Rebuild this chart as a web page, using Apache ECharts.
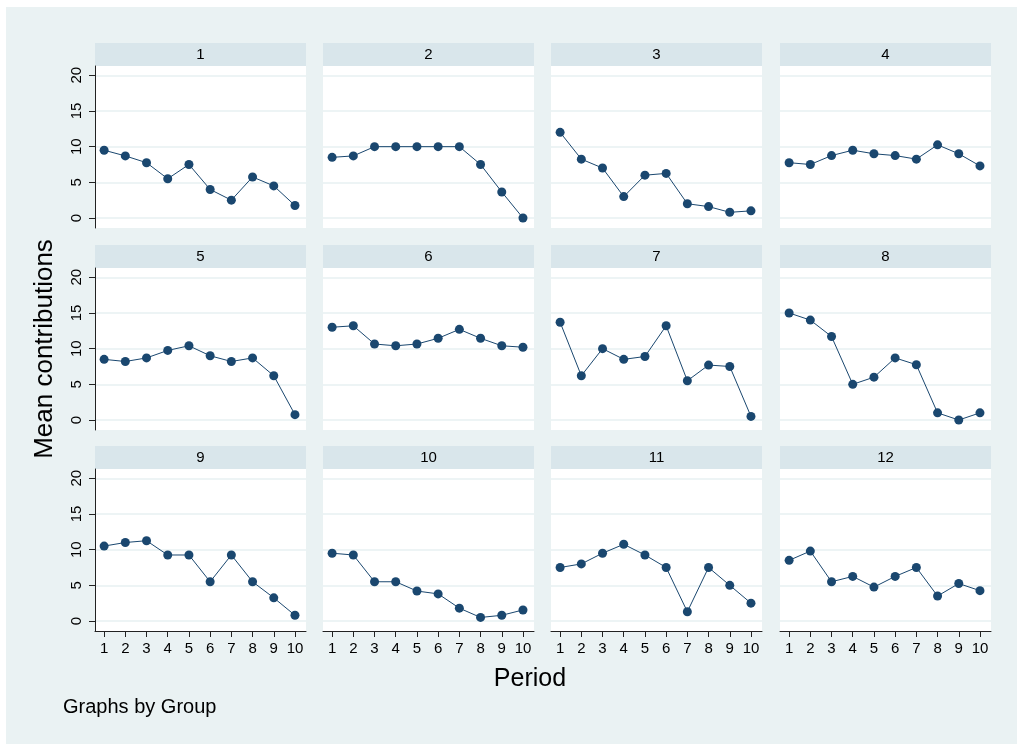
<!DOCTYPE html>
<html>
<head>
<meta charset="utf-8">
<title>Mean contributions by group</title>
<script src="https://cdn.jsdelivr.net/npm/echarts@6/dist/echarts.min.js"></script>
<style>
  html, body { margin: 0; padding: 0; background: #fff; }
  #main { position: absolute; left: 6px; top: 7px; width: 1011px; height: 737px; }
</style>
</head>
<body>
<div id="main"></div>
<script>
// periods on the x axis
const periods = [1, 2, 3, 4, 5, 6, 7, 8, 9, 10]
const yTicks = [0, 5, 10, 15, 20]
const groups = ['1', '2', '3', '4', '5', '6', '7', '8', '9', '10', '11', '12']

// mean contribution per period, one list per group
const group1 = [9.5, 8.7, 7.75, 5.5, 7.5, 4, 2.5, 5.75, 4.5, 1.75]
const group2 = [8.5, 8.7, 10, 10, 10, 10, 10, 7.5, 3.65, 0]
const group3 = [12, 8.25, 7, 3, 6, 6.25, 2, 1.6, 0.8, 1]
const group4 = [7.75, 7.5, 8.75, 9.5, 9, 8.75, 8.25, 10.25, 9, 7.3]
const group5 = [8.5, 8.2, 8.7, 9.75, 10.4, 9, 8.2, 8.7, 6.2, 0.75]
const group6 = [13, 13.2, 10.65, 10.4, 10.65, 11.45, 12.7, 11.45, 10.4, 10.2]
const group7 = [13.7, 6.2, 10, 8.5, 8.9, 13.2, 5.5, 7.7, 7.5, 0.5]
const group8 = [15, 14, 11.7, 5, 6, 8.7, 7.75, 1, 0, 1]
const group9 = [10.5, 11, 11.25, 9.25, 9.25, 5.5, 9.25, 5.5, 3.25, 0.8]
const group10 = [9.5, 9.25, 5.5, 5.5, 4.2, 3.8, 1.8, 0.5, 0.8, 1.55]
const group11 = [7.5, 8, 9.5, 10.75, 9.25, 7.5, 1.3, 7.5, 5, 2.5]
const group12 = [8.5, 9.8, 5.5, 6.25, 4.75, 6.25, 7.5, 3.5, 5.25, 4.25]

const groupValues = [group1, group2, group3, group4, group5, group6,
  group7, group8, group9, group10, group11, group12]

// layout (page pixels, the chart div sits at 6,7)
const OX = 6
const OY = 7
const colLeft = [95, 323, 551, 780]
const rowTop = [66, 268, 469]
const plotW = 211
const plotH = 162
const stripH = 23

const NAVY = '#1a476f'
const FONT = '"Liberation Sans", Arial, sans-serif'

let grids = []
let xAxes = []
let yAxes = []
let series = []
let graphics = []

groups.forEach((name, i) => {
  let r = Math.floor(i / 4)
  let c = i % 4
  let left = colLeft[c] - OX
  let top = rowTop[r] - OY
  let bottomRow = r === 2
  let leftCol = c === 0

  grids.push({
    left: left, top: top, width: plotW, height: plotH,
    show: true, backgroundColor: '#fff', borderWidth: 0
  })

  xAxes.push({
    type: 'value', gridIndex: i, min: 0.57, max: 10.52,
    axisLine: { show: bottomRow, onZero: false, lineStyle: { color: '#222', width: 1 } },
    axisTick: { show: bottomRow, length: 6, customValues: periods, lineStyle: { color: '#222' } },
    axisLabel: { show: bottomRow, customValues: periods, margin: 10, color: '#000', fontSize: 15, fontFamily: FONT },
    splitLine: { show: false }
  })

  yAxes.push({
    type: 'value', gridIndex: i, min: -1.4, max: 21.3,
    axisLine: { show: leftCol, onZero: false, lineStyle: { color: '#222', width: 1 } },
    axisTick: { show: leftCol, length: 6, customValues: yTicks, lineStyle: { color: '#222' } },
    axisLabel: { show: leftCol, customValues: yTicks, rotate: 90, margin: 11, color: '#000', fontSize: 15, fontFamily: FONT },
    splitLine: { show: true, lineStyle: { color: '#e7f0f2', width: 1.5 } }
  })

  series.push({
    type: 'line', xAxisIndex: i, yAxisIndex: i,
    data: periods.map((p, k) => [p, groupValues[i][k]]),
    symbol: 'circle', symbolSize: 9,
    itemStyle: { color: NAVY },
    lineStyle: { color: NAVY, width: 1 },
    animation: false
  })

  // strip header above each panel
  graphics.push({
    type: 'rect',
    shape: { x: left, y: top - stripH, width: plotW, height: stripH },
    style: { fill: '#d9e6eb' }
  })
  graphics.push({
    type: 'text',
    x: left + plotW / 2, y: top - stripH / 2,
    style: { text: name, fill: '#000', font: '15px ' + FONT, textAlign: 'center', textVerticalAlign: 'middle' }
  })
})

graphics.push({
  type: 'text', x: 45 - OX, y: 349 - OY, rotation: Math.PI / 2,
  style: { text: 'Mean contributions', fill: '#000', font: '26px ' + FONT, textAlign: 'center', textVerticalAlign: 'middle' }
})
graphics.push({
  type: 'text', x: 530 - OX, y: 679 - OY,
  style: { text: 'Period', fill: '#000', font: '25px ' + FONT, textAlign: 'center', textVerticalAlign: 'middle' }
})
graphics.push({
  type: 'text', x: 63 - OX, y: 707 - OY,
  style: { text: 'Graphs by Group', fill: '#000', font: '20px ' + FONT, textAlign: 'left', textVerticalAlign: 'middle' }
})

let chart = echarts.init(document.getElementById('main'))
chart.setOption({
  backgroundColor: '#eaf2f3',
  animation: false,
  grid: grids,
  xAxis: xAxes,
  yAxis: yAxes,
  series: series,
  graphic: graphics
})
</script>
</body>
</html>
